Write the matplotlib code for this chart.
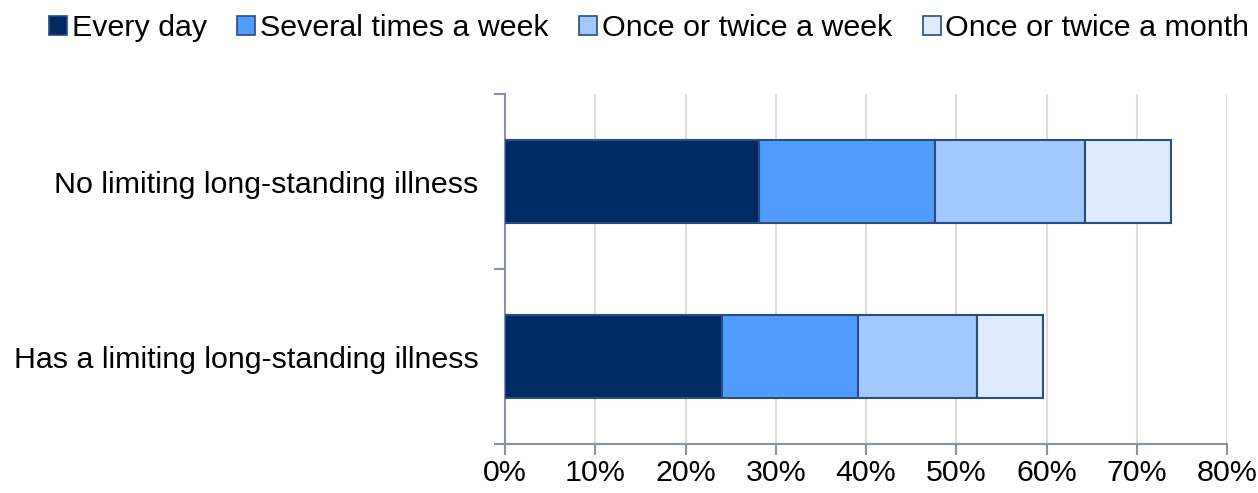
import matplotlib
matplotlib.use("Agg")
import matplotlib.pyplot as plt
from matplotlib.patches import Patch
from matplotlib.ticker import FuncFormatter, MultipleLocator

categories = ["No limiting long-standing illness", "Has a limiting long-standing illness"]
series_names = ["Every day", "Several times a week", "Once or twice a week", "Once or twice a month"]
every_day = [28.1, 24.0]
several_week = [19.6, 15.1]
once_twice_week = [16.6, 13.2]
once_twice_month = [9.5, 7.3]
series_values = [every_day, several_week, once_twice_week, once_twice_month]
colors = ["#002A64", "#4F9BFF", "#A2C8FF", "#DDEAFF"]
edge = "#2A4C7E"
spine_col = "#8A90A8"

plt.rcParams["font.family"] = ["Liberation Sans", "DejaVu Sans"]
fs = 21.9

fig = plt.figure(figsize=(12.58, 4.93), dpi=100)
ax = fig.add_axes([505/1258, 1-444/493, (1227-505)/1258, (444-94)/493])

ypos = list(range(len(categories)))
left = [0.0]*len(categories)
for name, vals, c in zip(series_names, series_values, colors):
    ax.barh(ypos, vals, left=left, height=0.475, color=c, edgecolor=edge, linewidth=1.5, label=name, zorder=3)
    left = [l+v for l, v in zip(left, vals)]

ax.set_xlim(0, 80)
ax.set_ylim(1.5, -0.5)
ax.xaxis.set_major_locator(MultipleLocator(10))
ax.xaxis.set_major_formatter(FuncFormatter(lambda v, p: f"{int(round(v))}%"))
ax.set_yticks([-0.5, 0.5, 1.5])
ax.set_yticklabels([])
ax.set_yticks(ypos, minor=True)
ax.set_yticklabels(categories, minor=True, fontsize=fs)
ax.tick_params(axis="y", which="minor", length=0, pad=19)
ax.tick_params(axis="y", which="major", length=8, color=spine_col, width=1.5)
ax.tick_params(axis="x", length=8, color=spine_col, width=1.5, labelsize=fs, pad=3)

ax.grid(axis="x", color="#DDDDDD", linewidth=1.5, zorder=0)
ax.set_axisbelow(True)
for s in ["top", "right"]:
    ax.spines[s].set_visible(False)
for s in ["left", "bottom"]:
    ax.spines[s].set_color(spine_col)
    ax.spines[s].set_linewidth(1.5)

handles = [Patch(facecolor=c, edgecolor=edge, linewidth=1.2) for c in colors]
fig.legend(handles, series_names, loc="upper center", bbox_to_anchor=(0.516, 1.027), ncol=4,
           frameon=False, fontsize=fs, handlelength=0.6, handleheight=0.6,
           handletextpad=0.15, columnspacing=1.0)

fig.savefig("out.png", dpi=100)
